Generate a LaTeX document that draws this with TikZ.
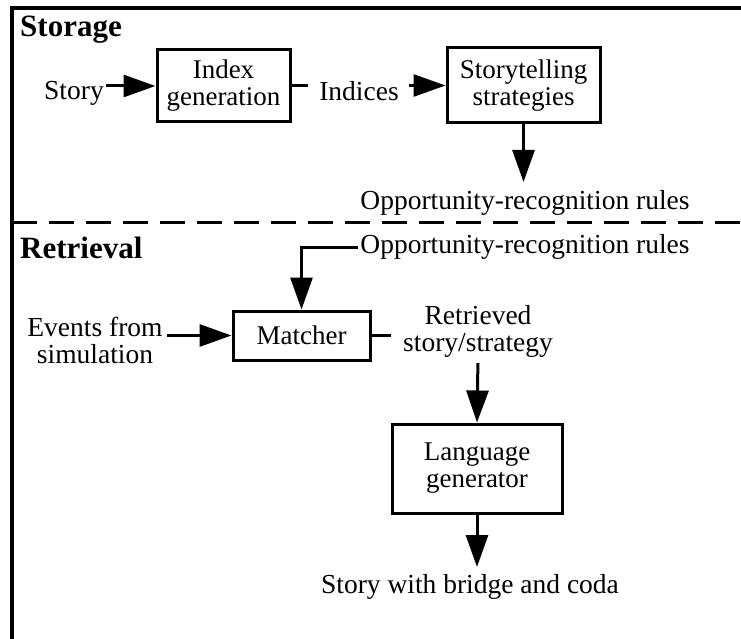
\documentclass[tikz,border=0pt]{standalone}
\usepackage{fontspec}
\setmainfont{Liberation Serif}
\usetikzlibrary{arrows.meta}
\begin{document}
\begin{tikzpicture}[x=1pt,y=-1pt,
  txt/.style={font=\fontsize{27.5}{27}\selectfont, inner sep=0pt, align=center},
  head/.style={font=\fontsize{31}{34}\selectfont\bfseries, inner sep=0pt, anchor=west},
  box/.style={draw, line width=3pt, inner sep=0pt, align=center, font=\fontsize{27}{27}\selectfont},
  arr/.style={line width=3pt, -{Triangle[width=22pt,length=32pt]}},
  ln/.style={line width=3pt}
]
\useasboundingbox (0,0) rectangle (741,639);
% frame
\draw[line width=4pt] (741,8) -- (12,8) -- (12,645);
\coordinate (dl) at (12,222);
\coordinate (dr) at (745,222);
\draw[line width=3pt, dash pattern=on 25pt off 12pt] (dl) -- (dr);

% storage
\node[head] (storage) at (20,30) {Storage};
\node[txt] (story) at (74,93) {Story};
\node[box, minimum width=133pt, minimum height=72pt] (idx) at (223.5,86) {Index\\generation};
\node[txt] (indices) at (359,91) {Indices};
\node[box, minimum width=153pt, minimum height=75pt] (strat) at (523.5,85.5) {Storytelling\\strategies};
\node[txt] (opp1) at (525,203) {Opportunity-recognition rules};

\draw[arr, shorten <=2pt] (story.east |- idx.west) -- (idx.west);
\draw[ln, shorten >=11pt] (idx.east) -- (idx.east -| indices.west);
\draw[arr, shorten <=10pt] (indices.east |- strat.west) -- (strat.west);
\draw[arr] (strat.south) -- (strat.south |- 0,182);

% retrieval
\node[head] (retrieval) at (20,248) {Retrieval};
\node[txt] (opp2) at (525,247) {Opportunity-recognition rules};
\node[box, minimum width=137pt, minimum height=49pt] (matcher) at (301.5,335.5) {Matcher};
\node[txt] (events) at (95,340) {Events from\\simulation};
\node[txt] (retrieved) at (478,331) {Retrieved\\story/strategy};
\node[box, minimum width=170pt, minimum height=89pt] (lang) at (477,468.5) {Language\\generator};
\node[txt] (final) at (470,587) {Story with bridge and coda};

\draw[arr, shorten <=2pt] (opp2.west) -| (matcher.north);
\draw[arr, shorten <=4pt] (events.east |- matcher.west) -- (matcher.west);
\draw[ln, shorten >=12pt] (matcher.east) -- (matcher.east -| retrieved.west);
\draw[arr, shorten <=6pt] (retrieved.south) -- (lang.north);
\draw[arr] (lang.south) -- (lang.south |- 0,567);
\end{tikzpicture}
\end{document}
